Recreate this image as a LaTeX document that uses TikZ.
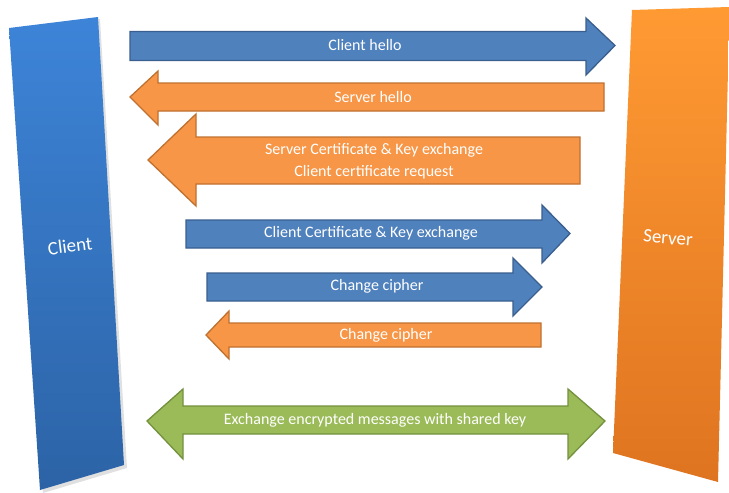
\documentclass[tikz,border=0pt]{standalone}
\usepackage{fontspec}
\setmainfont{Carlito}
\definecolor{bluefill}{HTML}{4F81BD}
\definecolor{blueedge}{HTML}{3A5F8E}
\definecolor{orfill}{HTML}{F79646}
\definecolor{oredge}{HTML}{C0702F}
\definecolor{grfill}{HTML}{9BBB59}
\definecolor{gredge}{HTML}{73913E}
\definecolor{cltop}{HTML}{3D84D8}
\definecolor{clbot}{HTML}{2C63A6}
\definecolor{svtop}{HTML}{FF9A33}
\definecolor{svbot}{HTML}{DF7420}
\tikzset{
  bluearrow/.style={fill=bluefill,draw=blueedge,line width=1.3pt,line join=miter},
  orarrow/.style={fill=orfill,draw=oredge,line width=1.3pt,line join=miter},
  grarrow/.style={fill=grfill,draw=gredge,line width=1.3pt,line join=miter},
  lbl/.style={text=white,font=\fontsize{16}{19}\selectfont,inner sep=0pt,align=center},
  pillarlbl/.style={text=white,font=\fontsize{19}{22}\selectfont,inner sep=0pt}
}
\begin{document}
\begin{tikzpicture}[x=1pt,y=-1pt]
\useasboundingbox (0,0) rectangle (729,493);
% shadow
\fill[black!12] (11,30) -- (100,19) -- (127,468) -- (43,493) -- cycle;
% client pillar
\shade[top color=cltop,bottom color=clbot] (9,28) -- (98,17) -- (124,465) -- (40,490) -- cycle;
\node[pillarlbl,rotate=7] (client) at (70,246) {Client};
% server pillar
\shade[top color=svtop,bottom color=svbot] (632,10) -- (729,7) -- (729,30) -- (718,482) -- (613,453) -- cycle;
\node[pillarlbl,rotate=-5] (server) at (668,238) {Server};
% 1 client hello
\path[bluearrow] (130,31.5) -- (586,31.5) -- (586,18) -- (615,45.5) -- (586,75) -- (586,60.5) -- (130,60.5) -- cycle;
\node[lbl] (m1) at (365,45.5) {Client hello};
% 2 server hello
\path[orarrow] (604,83) -- (158,83) -- (158,71) -- (130,97) -- (158,125) -- (158,111) -- (604,111) -- cycle;
\node[lbl] (m2) at (373,97) {Server hello};
% 3 server certificate
\path[orarrow] (580,137) -- (196,137) -- (196,114) -- (148,160) -- (196,206) -- (196,184) -- (580,184) -- cycle;
\node[lbl] (m3a) at (374,150) {Server Certificate \& Key exchange};
\node[lbl] (m3b) at (374,172) {Client certificate request};
% 4 client certificate
\path[bluearrow] (186,220) -- (542,220) -- (542,205) -- (570,233.5) -- (542,263) -- (542,248) -- (186,248) -- cycle;
\node[lbl] (m4) at (371,233) {Client Certificate \& Key exchange};
% 5 change cipher (client)
\path[bluearrow] (207,273) -- (513,273) -- (513,258) -- (542,287) -- (513,316) -- (513,301) -- (207,301) -- cycle;
\node[lbl] (m5) at (377,286) {Change cipher};
% 6 change cipher (server)
\path[orarrow] (541,323) -- (229,323) -- (229,311) -- (206,335) -- (229,359) -- (229,347) -- (541,347) -- cycle;
\node[lbl] (m6) at (386,335) {Change cipher};
% 7 exchange
\path[grarrow] (183,406) -- (568,406) -- (568,389) -- (605,421) -- (568,459) -- (568,434) -- (183,434) -- (183,459) -- (147,421) -- (183,389) -- cycle;
\node[lbl] (m7) at (375,420) {Exchange encrypted messages with shared key};
\end{tikzpicture}
\end{document}
